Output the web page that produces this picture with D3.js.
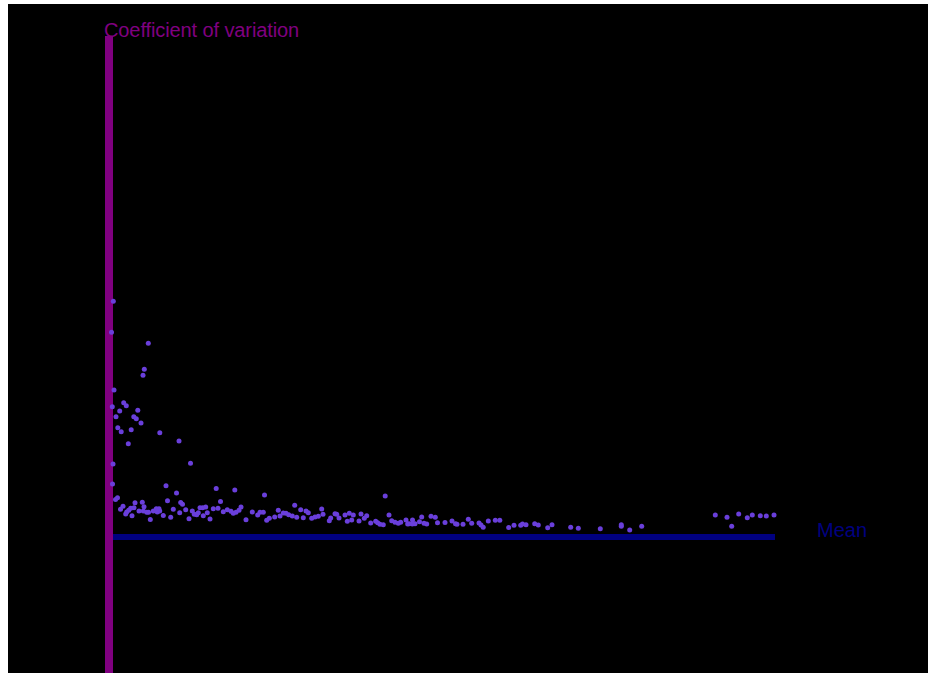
<!DOCTYPE html>
<html>
<head>
<meta charset="utf-8">
<script src="https://cdn.jsdelivr.net/npm/d3@7"></script>
<style>
  html, body { margin: 0; padding: 0; background: #ffffff; overflow: hidden; }
  svg { display: block; }
</style>
</head>
<body>
<svg id="chart" width="928" height="673"></svg>
<script>
// Mean of each series (x) and its coefficient of variation (y)
const meanValues = [
  21.5, 12.5, 196.5, 176.5, 170, 25, 16.5, 73.5, 86.5, 53.5, 35, 144, 124, 136.5, 160, 44, 61, 111, 254, 96.5,
  350, 20, 407.5, 17.5, 285, 337.5, 536, 629, 777.5, 42.5, 32.5,
  130, 166.5, 292.5, 358.5, 367.5, 70, 57.5, 175, 108.5, 98.5, 88.5, 83.5, 125, 150, 171.5, 188.5, 197.5, 221.5, 236.5,
  250, 253.5, 241.5, 115, 206.5, 271.5, 321.5, 353.5, 308.5,
  557.5, 383.5, 400, 416.5, 426.5, 438.5, 455, 468.5, 483.5, 446.5, 471.5, 491.5, 505, 521.5, 545, 571.5, 591.5, 610,
  621.5, 635, 650, 660, 685, 716.5, 743.5, 755, 771.5, 788.5, 801.5, 828.5, 846.5, 855, 871.5, 885, 898.5,
  928.5, 958.5, 985, 996.5, 1063.5, 916.5, 938.5, 971.5, 1013.5, 1030, 1046.5, 1070, 1108.5, 1101.5, 1130, 1138.5,
  1150, 1180, 1201.5, 1221.5, 1191.5, 1213.5, 1260, 1250, 1276.5, 1288.5, 1308.5, 1333.5, 1343.5, 1355, 1371.5, 1381,
  1400, 1413.5, 1430, 1446.5, 1458.5, 1485, 1493.5,
  1500, 1517.5, 1516.5, 1530, 1552.5, 1563.5, 1575, 1588.5, 1610, 1631.5, 1642.5, 1680, 1715, 1732.5, 1740, 1770,
  1796.5, 1813.5, 1850, 1860, 1871, 1896.5, 1931.5, 1954, 1998.5, 2025, 2058.5, 2067.5, 2085,
  2128.5, 2146.5, 2193.5, 2215, 2308.5, 2346.5, 2456.5, 2561.5, 2603.5, 2663.5, 3031.5, 3090, 3113.5, 3148.5, 3191.5,
  3216.5, 3256.5, 3286.5, 3325, 2561.5
];
const cvValues = [
  0.943, 0.819, 0.775, 0.671, 0.647, 0.588, 0.521, 0.537, 0.525, 0.504, 0.481, 0.507, 0.481, 0.473, 0.456, 0.437, 0.421, 0.429, 0.417, 0.373,
  0.384, 0.292, 0.295, 0.212, 0.205, 0.176, 0.194, 0.188, 0.168, 0.157, 0.150,
  0.137, 0.139, 0.145, 0.138, 0.131, 0.123, 0.111, 0.121, 0.115, 0.107, 0.100, 0.092, 0.117, 0.104, 0.104, 0.099, 0.099, 0.104, 0.113,
  0.113, 0.104, 0.100, 0.085, 0.070, 0.086, 0.111, 0.097, 0.079,
  0.142, 0.109, 0.073, 0.104, 0.091, 0.089, 0.117, 0.117, 0.120, 0.097, 0.085, 0.097, 0.072, 0.113, 0.115, 0.101, 0.109, 0.103,
  0.095, 0.099, 0.107, 0.120, 0.069, 0.100, 0.088, 0.099, 0.099, 0.067, 0.075, 0.080, 0.107, 0.084, 0.096, 0.095, 0.089,
  0.127, 0.109, 0.104, 0.097, 0.112, 0.084, 0.079, 0.077, 0.075, 0.080, 0.083, 0.091, 0.076, 0.065, 0.093, 0.091,
  0.076, 0.088, 0.095, 0.088, 0.063, 0.068, 0.092, 0.064, 0.075, 0.085, 0.056, 0.063, 0.057, 0.051, 0.049, 0.164,
  0.088, 0.065, 0.059, 0.055, 0.059, 0.068, 0.052,
  0.053, 0.068, 0.052, 0.053, 0.061, 0.080, 0.055, 0.052, 0.083, 0.079, 0.057, 0.058, 0.064, 0.053, 0.051, 0.051,
  0.071, 0.055, 0.056, 0.048, 0.039, 0.064, 0.067, 0.067, 0.038, 0.047, 0.047, 0.052, 0.049,
  0.053, 0.048, 0.037, 0.049, 0.039, 0.035, 0.033, 0.049, 0.028, 0.043, 0.088, 0.079, 0.043, 0.092, 0.077,
  0.088, 0.085, 0.084, 0.088, 0.043
];
const axisLabels = ["Mean", "Coefficient of variation"];
const meanDomain = [0, 3330];
const cvDomain = [0, 2];

const width = 928, height = 673;
const svg = d3.select("#chart");

// dark plotting surface, inset from the page edge
svg.append("rect")
  .attr("x", 8).attr("y", 4)
  .attr("width", width - 8).attr("height", height - 4)
  .attr("fill", "#000000");

const x = d3.scaleLinear().domain(meanDomain).range([109, 775]);
const y = d3.scaleLinear().domain(cvDomain).range([537, 37]);

// Mean axis (horizontal)
svg.append("line")
  .attr("x1", x(meanDomain[0])).attr("x2", x(meanDomain[1]))
  .attr("y1", y(0)).attr("y2", y(0))
  .attr("stroke", "#000080").attr("stroke-width", 6);

// Coefficient of variation axis (vertical), running down past the origin
svg.append("line")
  .attr("x1", x(0)).attr("x2", x(0))
  .attr("y1", y(cvDomain[1]) - 1).attr("y2", height)
  .attr("stroke", "#800080").attr("stroke-width", 8);

svg.append("text")
  .attr("x", x(0) - 5).attr("y", y(cvDomain[1]))
  .attr("font-family", "'Liberation Sans', Arial, sans-serif")
  .attr("font-size", 20)
  .attr("fill", "#800080")
  .attr("letter-spacing", -0.1)
  .text(axisLabels[1]);

svg.append("text")
  .attr("x", 817).attr("y", y(0))
  .attr("font-family", "'Liberation Sans', Arial, sans-serif")
  .attr("font-size", 20)
  .attr("fill", "#000080")
  .text(axisLabels[0]);

const points = meanValues.map((m, i) => ({ mean: m, cv: cvValues[i] }));

svg.append("g")
  .selectAll("circle")
  .data(points)
  .join("circle")
  .attr("cx", d => x(d.mean))
  .attr("cy", d => y(d.cv))
  .attr("r", 2.5)
  .attr("fill", "#6a3fdb");
</script>
</body>
</html>
